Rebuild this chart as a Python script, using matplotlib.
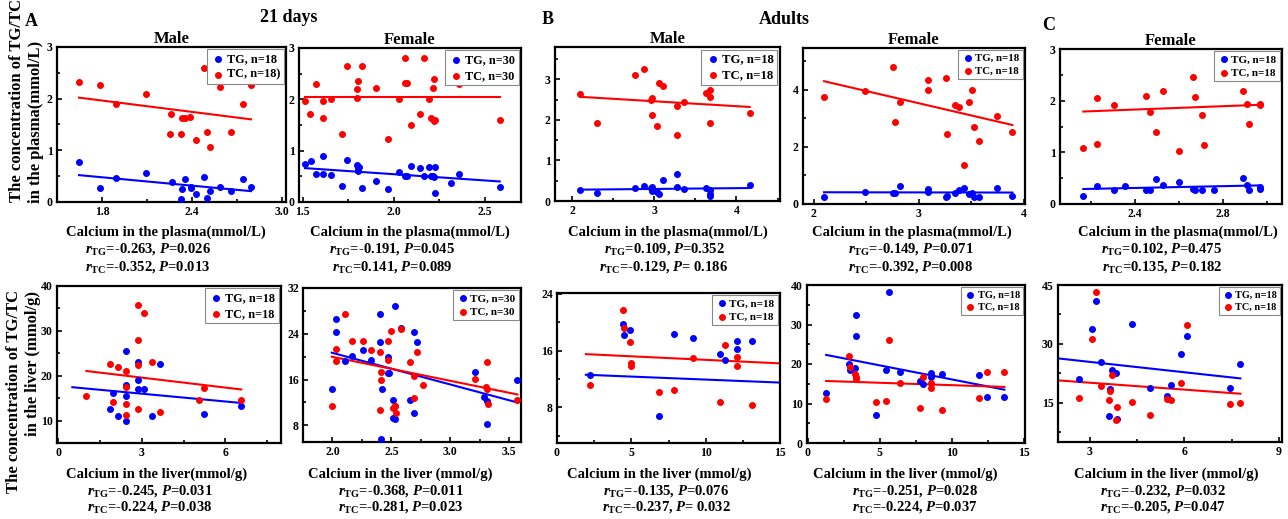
import numpy as np
import matplotlib
matplotlib.use('Agg')
import matplotlib.pyplot as plt
from matplotlib.ticker import AutoMinorLocator

plt.rcParams['font.family'] = 'Liberation Serif'
plt.rcParams['font.weight'] = 'bold'
plt.rcParams['mathtext.fontset'] = 'custom'
plt.rcParams['mathtext.rm'] = 'Liberation Serif:bold'
plt.rcParams['mathtext.it'] = 'Liberation Serif:italic:bold'
plt.rcParams['mathtext.bf'] = 'Liberation Serif:bold'

# ---- 21 days, male, plasma
am_pl_ca_tg = [1.647, 1.784, 1.894, 2.097, 2.267, 2.33, 2.335, 2.357, 2.395, 2.395, 2.43, 2.479, 2.501, 2.524, 2.587, 2.661, 2.744, 2.796]
am_pl_tg = [0.77, 0.27, 0.46, 0.57, 0.38, 0.06, 0.25, 0.44, 0.27, 0.30, 0.16, 0.49, 0.08, 0.22, 0.29, 0.22, 0.45, 0.29]
am_pl_ca_tc = [1.647, 1.784, 1.894, 2.097, 2.263, 2.256, 2.33, 2.335, 2.357, 2.391, 2.43, 2.479, 2.501, 2.524, 2.587, 2.661, 2.744, 2.796]
am_pl_tc = [2.32, 2.26, 1.89, 2.09, 1.70, 1.31, 1.31, 1.62, 1.63, 1.65, 1.20, 2.60, 1.36, 1.07, 2.23, 1.36, 1.89, 2.26]
am_pl_fit_tg = [1.647, 2.796, 0.52, 0.21]
am_pl_fit_tc = [1.647, 2.796, 2.02, 1.60]

# ---- 21 days, female, plasma
af_pl_ca_tg = [1.513, 1.544, 1.572, 1.61, 1.614, 1.654, 1.715, 1.746, 1.80, 1.805, 1.805, 1.825, 1.904, 1.967, 2.031,
               2.061, 2.074, 2.096, 2.143, 2.165, 2.197, 2.208, 2.221, 2.226, 2.23, 2.316, 2.362, 2.583, 2.215, 1.807]
af_pl_tg = [0.74, 0.79, 0.55, 0.55, 0.89, 0.52, 0.32, 0.82, 0.72, 0.66, 0.61, 0.28, 0.41, 0.25, 0.59,
            0.50, 0.50, 0.71, 0.66, 0.50, 0.68, 0.50, 0.48, 0.17, 0.69, 0.37, 0.55, 0.30, 0.50, 0.69]
af_pl_ca_tc = [1.513, 1.54, 1.572, 1.61, 1.614, 1.654, 1.715, 1.746, 1.80, 1.805, 1.80, 1.825, 1.904, 1.967, 2.031,
               2.061, 2.064, 2.074, 2.096, 2.143, 2.165, 2.197, 2.208, 2.215, 2.221, 2.221, 2.23, 2.316, 2.362, 2.583]
af_pl_tc = [1.97, 1.71, 2.29, 1.97, 1.64, 2.00, 1.33, 2.65, 2.21, 2.35, 2.02, 2.65, 2.22, 1.22, 2.00,
            2.81, 2.31, 2.31, 1.50, 1.71, 2.81, 2.00, 1.64, 2.23, 2.39, 1.58, 1.60, 2.34, 2.29, 1.60]
af_pl_fit_tg = [1.513, 2.583, 0.66, 0.40]
af_pl_fit_tc = [1.513, 2.583, 2.05, 2.05]

# ---- adults, male, plasma
bm_pl_ca = [2.10, 2.30, 2.77, 2.87, 2.96, 2.97, 2.97, 3.03, 3.06, 3.10, 3.27, 3.27, 3.36, 3.63, 3.68, 3.68, 3.68, 4.16]
bm_pl_tg = [0.27, 0.19, 0.33, 0.37, 0.31, 0.34, 0.25, 0.21, 0.17, 0.52, 0.66, 0.34, 0.30, 0.31, 0.26, 0.13, 0.17, 0.40]
bm_pl_tc = [2.64, 1.93, 3.10, 3.26, 2.50, 2.53, 2.12, 1.84, 2.90, 2.83, 2.34, 1.64, 2.44, 2.67, 2.75, 2.57, 1.93, 2.16]
bm_pl_fit_tg = [2.10, 4.16, 0.28, 0.32]
bm_pl_fit_tc = [2.10, 4.16, 2.57, 2.32]

# ---- adults, female, plasma
bf_pl_ca = [2.10, 2.49, 2.76, 2.77, 2.82, 3.09, 3.09, 3.26, 3.27, 3.34, 3.38, 3.43, 3.48, 3.51, 3.53, 3.57, 3.74, 3.89]
bf_pl_tg = [0.26, 0.43, 0.40, 0.37, 0.64, 0.53, 0.41, 0.23, 0.29, 0.40, 0.49, 0.55, 0.34, 0.40, 0.26, 0.26, 0.55, 0.29]
bf_pl_tc = [3.74, 3.96, 4.78, 2.85, 3.57, 4.32, 3.98, 4.39, 2.46, 3.46, 3.39, 1.37, 3.57, 4.00, 2.68, 2.19, 3.09, 2.51]
bf_pl_fit_tg = [2.10, 3.89, 0.41, 0.40]
bf_pl_fit_tc = [2.10, 3.89, 4.29, 2.76]

# ---- C, female, plasma
cf_pl_ca_tg = [2.166, 2.227, 2.304, 2.357, 2.453, 2.469, 2.499, 2.530, 2.60, 2.663, 2.675, 2.705, 2.759, 2.893, 2.911, 2.922, 2.969, 2.97]
cf_pl_tg = [0.16, 0.35, 0.28, 0.34, 0.28, 0.28, 0.48, 0.37, 0.42, 0.29, 0.27, 0.28, 0.27, 0.51, 0.37, 0.27, 0.32, 0.30]
cf_pl_ca_tc = [2.166, 2.227, 2.227, 2.304, 2.453, 2.469, 2.499, 2.530, 2.60, 2.663, 2.675, 2.705, 2.716, 2.893, 2.911, 2.922, 2.969, 2.969]
cf_pl_tc = [1.08, 2.05, 1.16, 1.92, 2.10, 1.78, 1.40, 2.19, 1.03, 2.46, 2.07, 1.73, 1.14, 2.19, 1.94, 1.55, 1.93, 1.91]
cf_pl_fit_tg = [2.166, 2.969, 0.29, 0.36]
cf_pl_fit_tc = [2.166, 2.969, 1.79, 1.92]

# ---- 21 days, male, liver
am_lv_ca_tg = [1.86, 1.96, 2.16, 2.42, 2.42, 2.44, 2.44, 2.86, 2.86, 2.86, 3.07, 3.35, 3.65, 5.22, 6.57]
am_lv_tg = [12.6, 16.2, 11.0, 25.6, 17.9, 15.6, 9.9, 23.2, 19.1, 17.2, 17.2, 11.0, 22.6, 11.6, 13.4]
am_lv_ca_tc = [1.01, 1.86, 2.16, 1.96, 2.42, 2.44, 2.42, 2.42, 2.86, 2.86, 2.86, 2.86, 3.07, 3.35, 3.65, 5.06, 5.22, 6.57]
am_lv_tc = [15.6, 22.6, 22.1, 14.3, 17.5, 21.2, 13.8, 11.3, 35.7, 28.1, 22.4, 12.6, 34.0, 23.2, 11.9, 14.7, 17.3, 14.7]
am_lv_fit_tg = [0.5, 6.57, 17.5, 14.0]
am_lv_fit_tc = [1.01, 6.57, 21.1, 17.0]

# ---- 21 days, female, liver
af_lv_ca_tg = [1.994, 2.034, 2.034, 2.105, 2.165, 2.26, 2.33, 2.40, 2.40, 2.41, 2.42, 2.47, 2.47, 2.48,
               2.51, 2.51, 2.53, 2.53, 2.58, 2.66, 2.69, 2.69, 2.72, 3.21, 3.29, 3.31, 3.31, 3.57]
af_lv_tg = [14.3, 26.6, 24.3, 19.2, 20.1, 21.1, 19.4, 27.5, 22.6, 5.6, 14.3, 20.0, 17.2, 17.2,
            12.5, 9.3, 9.2, 28.8, 25.0, 12.5, 24.3, 10.2, 22.6, 17.4, 12.9, 12.2, 8.3, 15.9]
af_lv_ca_tc = [1.994, 2.034, 2.034, 2.105, 2.165, 2.26, 2.33, 2.40, 2.40, 2.41, 2.41, 2.47, 2.47, 2.50, 2.51,
               2.53, 2.54, 2.53, 2.58, 2.66, 2.69, 2.69, 2.72, 2.77, 3.21, 3.30, 3.31, 3.31, 3.32, 3.57]
af_lv_tc = [11.4, 21.4, 19.2, 27.5, 22.8, 22.8, 21.1, 20.8, 10.7, 17.3, 15.9, 19.5, 22.8, 24.5, 11.0,
            11.4, 10.2, 11.4, 24.9, 19.0, 16.7, 12.7, 20.8, 15.0, 16.1, 14.7, 14.4, 19.0, 11.8, 12.4]
af_lv_fit_tg = [1.994, 3.57, 20.7, 12.0]
af_lv_fit_tc = [1.994, 3.57, 20.0, 13.4]

# ---- adults, male, liver
bm_lv_ca_tg = [2.21, 4.41, 4.50, 4.91, 6.89, 7.88, 9.14, 10.99, 11.33, 12.12, 12.12, 13.09]
bm_lv_tg = [12.6, 19.7, 18.2, 18.9, 6.8, 18.4, 17.8, 15.5, 14.7, 17.4, 16.2, 17.4]
bm_lv_ca_tc = [2.21, 4.41, 4.50, 4.91, 4.95, 4.98, 6.89, 7.88, 9.14, 10.99, 11.33, 12.12, 12.12, 13.09]
bm_lv_tc = [11.2, 21.7, 19.2, 17.2, 14.2, 13.8, 10.2, 10.5, 15.0, 8.7, 16.8, 15.1, 13.8, 8.3]
bm_lv_fit_tg = [1.94, 15.0, 12.6, 11.5]
bm_lv_fit_tc = [1.94, 15.0, 15.5, 14.2]

# ---- adults, female, liver
bf_lv_ca = [1.28, 2.86, 2.91, 3.26, 3.33, 3.33, 4.77, 5.47, 5.65, 6.40, 7.79, 7.98, 8.60, 8.60, 9.30, 11.93, 12.49, 13.67]
bf_lv_tg = [12.7, 19.9, 18.5, 19.1, 32.3, 27.0, 7.0, 18.5, 38.3, 18.0, 15.7, 14.9, 17.6, 16.6, 17.4, 17.2, 11.7, 11.7]
bf_lv_tc = [11.2, 21.9, 19.3, 17.4, 16.6, 16.1, 10.4, 10.6, 26.1, 15.1, 8.9, 16.8, 15.1, 13.8, 8.4, 11.5, 18.0, 18.0]
bf_lv_fit_tg = [1.28, 13.67, 22.3, 13.5]
bf_lv_fit_tc = [1.28, 13.67, 15.7, 14.2]

# ---- C, female, liver
cf_lv_ca_tg = [2.66, 3.08, 3.21, 3.37, 3.61, 3.66, 3.71, 3.83, 3.87, 4.33, 4.93, 5.46, 5.58, 5.89, 6.08, 7.46, 7.78]
cf_lv_tg = [21.0, 33.8, 41.0, 25.5, 11.7, 18.4, 23.3, 22.5, 10.9, 35.1, 18.8, 16.6, 19.5, 27.4, 31.9, 18.8, 25.0]
cf_lv_ca_tc = [2.66, 3.08, 3.21, 3.37, 3.61, 3.66, 3.71, 3.87, 3.83, 4.33, 4.93, 5.46, 5.58, 5.89, 6.08, 7.46, 7.78]
cf_lv_tc = [16.3, 31.2, 43.2, 19.2, 15.6, 18.0, 22.0, 13.9, 10.5, 15.2, 11.9, 16.0, 15.8, 20.1, 34.9, 14.7, 15.0]
cf_lv_fit_tg = [2.0, 7.78, 26.3, 21.2]
cf_lv_fit_tc = [2.0, 7.78, 20.7, 17.3]

# correlation text and legend n
r_tg = ['-0.263', '-0.191', '0.109', '-0.149', '0.102', '-0.245', '-0.368', '-0.135', '-0.251', '-0.232']
p_tg = ['0.026', '0.045', '0.352', '0.071', '0.475', '0.031', '0.011', '0.076', '0.028', '0.032']
r_tc = ['-0.352', '0.141', '-0.129', '-0.392', '0.135', '-0.224', '-0.281', '-0.237', '-0.224', '-0.205']
p_tc = ['0.013', '0.089', ' 0.186', '0.008', '0.182', '0.038', '0.023', ' 0.032', '0.037', '0.047']
n_tg = ['18', '30', '18', '18', '18', '18', '30', '18', '18', '18']
n_tc = ['18)', '30', '18', '18', '18', '18', '30', '18', '18', '18']
titles = ['Male', 'Female', 'Male', 'Female', 'Female', None, None, None, None, None]
xlabels = ['Calcium in the plasma(mmol/L)'] * 5 + ['Calcium in the liver(mmol/g)'] + ['Calcium in the liver (mmol/g)'] * 4

series = [
    (am_pl_ca_tg, am_pl_tg, am_pl_ca_tc, am_pl_tc, am_pl_fit_tg, am_pl_fit_tc),
    (af_pl_ca_tg, af_pl_tg, af_pl_ca_tc, af_pl_tc, af_pl_fit_tg, af_pl_fit_tc),
    (bm_pl_ca, bm_pl_tg, bm_pl_ca, bm_pl_tc, bm_pl_fit_tg, bm_pl_fit_tc),
    (bf_pl_ca, bf_pl_tg, bf_pl_ca, bf_pl_tc, bf_pl_fit_tg, bf_pl_fit_tc),
    (cf_pl_ca_tg, cf_pl_tg, cf_pl_ca_tc, cf_pl_tc, cf_pl_fit_tg, cf_pl_fit_tc),
    (am_lv_ca_tg, am_lv_tg, am_lv_ca_tc, am_lv_tc, am_lv_fit_tg, am_lv_fit_tc),
    (af_lv_ca_tg, af_lv_tg, af_lv_ca_tc, af_lv_tc, af_lv_fit_tg, af_lv_fit_tc),
    (bm_lv_ca_tg, bm_lv_tg, bm_lv_ca_tc, bm_lv_tc, bm_lv_fit_tg, bm_lv_fit_tc),
    (bf_lv_ca, bf_lv_tg, bf_lv_ca, bf_lv_tc, bf_lv_fit_tg, bf_lv_fit_tc),
    (cf_lv_ca_tg, cf_lv_tg, cf_lv_ca_tc, cf_lv_tc, cf_lv_fit_tg, cf_lv_fit_tc),
]

# layout (pixels): axes boxes left, top, right, bottom
W, H = 1288, 519
boxes = [(57, 47, 286, 202), (299, 48, 521, 202), (555, 47, 780, 201), (803, 48, 1025, 204), (1060, 49, 1282, 204),
         (57, 286, 281, 443), (303, 288, 521, 442), (557, 293, 780, 443), (807, 285, 1025, 443), (1058, 285, 1282, 442)]
xlims = [(1.5, 3.03), (1.48, 2.70), (1.79, 4.53), (1.9, 4.01), (2.06, 3.07),
         (-0.05, 8.0), (1.75, 3.6), (0, 15), (-0.05, 15.1), (2.0, 9.1)]
ylims = [(0, 3), (0, 3), (0, 3.8), (0, 5.45), (0, 3),
         (5.1, 40), (5.1, 32), (3, 24.1), (0, 40), (5, 45)]
xticks = [[1.8, 2.4, 3.0], [1.5, 2.0, 2.5], [2, 3, 4], [2, 3, 4], [2.4, 2.8],
          [0, 3, 6], [2.0, 2.5, 3.0, 3.5], [0, 5, 10, 15], [0, 5, 10, 15], [3, 6, 9]]
xfmt = ['%.1f', '%.1f', '%d', '%d', '%.1f', '%d', '%.1f', '%d', '%d', '%d']
yticks = [[0, 1, 2, 3], [0, 1, 2, 3], [0, 1, 2, 3], [0, 2, 4], [0, 1, 2, 3],
          [10, 20, 30, 40], [8, 16, 24, 32], [8, 16, 24], [0, 10, 20, 30, 40], [15, 30, 45]]
leg_fs = [8.8, 8.8, 9.2, 7.8, 8, 8.8, 8, 8, 7.5, 7.4]
xlab_x = [166, 410, 668, 912, 1178, 157, 400, 659, 905, 1166]
stat_x = [148, 392, 664, 911, 1162, 150, 401, 666, 915, 1163]

fig = plt.figure(figsize=(W / 100, H / 100), dpi=100)

def fx(px):
    return px / W

def fy(py):
    return 1 - py / H

blue, red = '#0000ff', '#ff0000'
for i, (xtg, ytg, xtc, ytc, ftg, ftc) in enumerate(series):
    l, t, r, b = boxes[i]
    ax = fig.add_axes([fx(l), fy(b), (r - l) / W, (b - t) / H])
    ax.scatter(xtg, ytg, s=16, color=blue, zorder=3, label='TG, n=' + n_tg[i])
    ax.scatter(xtc, ytc, s=16, color=red, zorder=3, label='TC, n=' + n_tc[i])
    ax.plot(ftg[:2], ftg[2:], color=blue, lw=1.5, zorder=2)
    ax.plot(ftc[:2], ftc[2:], color=red, lw=1.5, zorder=2)
    ax.set_xlim(xlims[i])
    ax.set_ylim(ylims[i])
    ax.set_xticks(xticks[i])
    ax.set_xticklabels([xfmt[i] % v for v in xticks[i]])
    ax.set_yticks(yticks[i])
    ax.xaxis.set_minor_locator(AutoMinorLocator(2))
    ax.yaxis.set_minor_locator(AutoMinorLocator(2))
    ax.tick_params(which='both', direction='in', top=False, right=False, labelsize=8.5, width=1.2, pad=3)
    ax.tick_params(which='major', length=3.5)
    ax.tick_params(which='minor', length=2)
    for sp in ax.spines.values():
        sp.set_linewidth(1.6)
    if titles[i]:
        ax.set_title(titles[i], fontsize=12, fontweight='bold', pad=3)
    leg = ax.legend(loc='upper right', fontsize=leg_fs[i], frameon=True, fancybox=False, framealpha=1,
                    edgecolor='#888888', handletextpad=0.1, borderpad=0.3, labelspacing=0.3,
                    borderaxespad=0.2, handlelength=1.2, markerscale=1.0)
    leg.get_frame().set_linewidth(0.8)
    # labels under each panel
    if i < 5:
        ys = (232, 249, 267)
    else:
        ys = (474, 491, 507)
    fig.text(fx(xlab_x[i]), fy(ys[0]), xlabels[i], ha='center', va='center', fontsize=10.5)
    fig.text(fx(stat_x[i]), fy(ys[1]), r'$r_{\rm TG}$=' + r_tg[i] + ', $P$=' + p_tg[i],
             ha='center', va='center', fontsize=10.5)
    fig.text(fx(stat_x[i]), fy(ys[2]), r'$r_{\rm TC}$=' + r_tc[i] + ', $P$=' + p_tc[i],
             ha='center', va='center', fontsize=10.5)

# y labels
fig.text(fx(17), fy(202), 'The concentration of TG/TC', rotation=90, ha='center', va='bottom', fontsize=12)
fig.text(fx(36), fy(122), 'in the plasma(mmol/L)', rotation=90, ha='center', va='center', fontsize=12)
fig.text(fx(14), fy(493), 'The concentration of TG/TC', rotation=90, ha='center', va='bottom', fontsize=12)
fig.text(fx(33), fy(364), 'in the liver (mmol/g)', rotation=90, ha='center', va='center', fontsize=12)

# section headers
fig.text(fx(31), fy(21), 'A', ha='center', va='center', fontsize=13)
fig.text(fx(289), fy(17), '21 days', ha='center', va='center', fontsize=13)
fig.text(fx(548), fy(20), 'B', ha='center', va='center', fontsize=13)
fig.text(fx(784), fy(19), 'Adults', ha='center', va='center', fontsize=13)
fig.text(fx(1049), fy(25), 'C', ha='center', va='center', fontsize=13)

fig.savefig('out.png', dpi=100)
